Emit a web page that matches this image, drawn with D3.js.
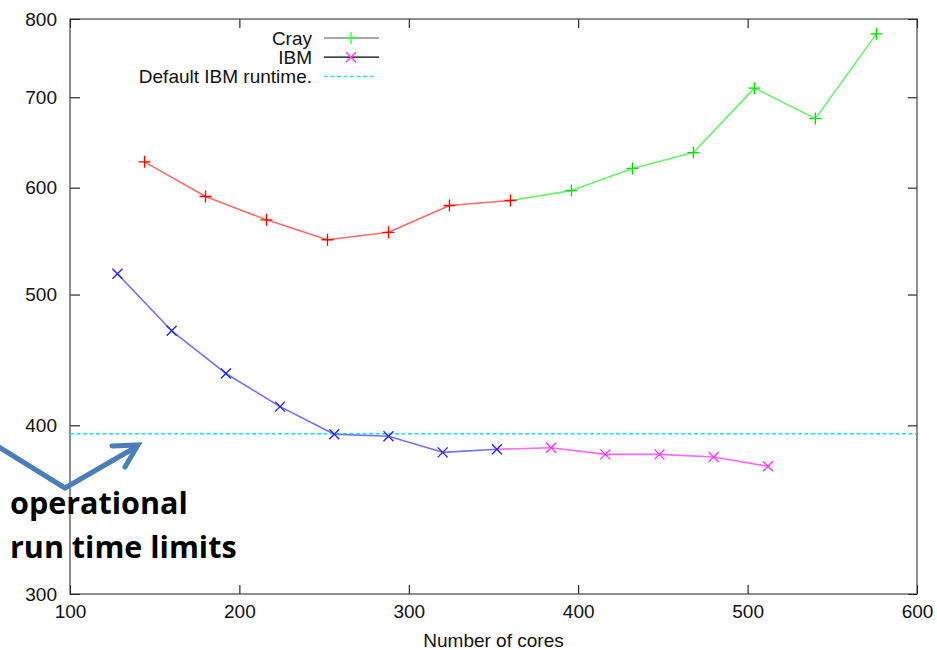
<!DOCTYPE html>
<html>
<head>
<meta charset="utf-8">
<script src="https://cdn.jsdelivr.net/npm/d3@7"></script>
<style>
  body { margin: 0; background: #fff; }
  svg { display: block; }
  .tick text { font-family: "Liberation Sans", Arial, sans-serif; font-size: 19px; fill: #111; }
  .label { font-family: "Liberation Sans", Arial, sans-serif; font-size: 19px; fill: #111; }
  .note { font-family: "Open Sans", Lato, sans-serif; font-weight: bold; font-size: 30.5px; fill: #000; }
</style>
</head>
<body>
<div id="graph"></div>
<script>
// cores used and run time
var cray_cores = [144, 180, 216, 252, 288, 324, 360, 396, 432, 468, 504, 540, 576];
var cray_time  = [627, 591, 568, 549, 556, 582, 587, 597, 620, 637, 711, 675, 780];
var ibm_cores  = [128, 160, 192, 224, 256, 288, 320, 352, 384, 416, 448, 480, 512];
var ibm_time   = [518, 470, 437, 413, 394, 392.6, 382, 384, 385, 380.7, 380.7, 379, 373];
var ibm_default = 394.3;
var x_ticks = [100, 200, 300, 400, 500, 600];
var y_ticks = [300, 400, 500, 600, 700, 800];
var legend_names = ["Cray", "IBM", "Default IBM runtime."];

// colour changes after this many cores (first colour up to it)
const split_cores = 365;
const margin = {top: 19, right: 20, bottom: 56, left: 70};
var width = 937 - margin.left - margin.right;
var height = 650 - margin.top - margin.bottom;

var svg = d3.select("#graph")
    .append("svg")
    .attr("width", 937)
    .attr("height", 650);

var xScale = d3.scaleLinear().domain([100, 600]).range([margin.left, margin.left + width]);
var yScale = d3.scaleLog().domain([300, 800]).range([margin.top + height, margin.top]);

// axes, ticks pointing into the plot like gnuplot
svg.append("g")
    .attr("transform", "translate(0," + (margin.top + height) + ")")
    .call(d3.axisBottom(xScale).tickValues(x_ticks).tickFormat(d3.format("d"))
        .tickSizeInner(-9).tickSizeOuter(0).tickPadding(11));
svg.append("g")
    .attr("transform", "translate(0," + margin.top + ")")
    .call(d3.axisTop(xScale).tickValues(x_ticks).tickFormat("").tickSizeInner(-9).tickSizeOuter(0));
svg.append("g")
    .attr("transform", "translate(" + margin.left + ",0)")
    .call(d3.axisLeft(yScale).tickValues(y_ticks).tickFormat(d3.format("d"))
        .tickSizeInner(-10).tickSizeOuter(0).tickPadding(13));
svg.append("g")
    .attr("transform", "translate(" + (margin.left + width) + ",0)")
    .call(d3.axisRight(yScale).tickValues(y_ticks).tickFormat("").tickSizeInner(-9).tickSizeOuter(0));
svg.selectAll(".domain").remove();
svg.selectAll(".tick line").attr("stroke", "#000");

svg.append("rect")
    .attr("x", margin.left)
    .attr("y", margin.top)
    .attr("width", width)
    .attr("height", height)
    .attr("fill", "none")
    .attr("stroke", "#444")
    .attr("stroke-width", 1.2);

svg.append("text")
    .attr("class", "label")
    .attr("x", margin.left + width / 2)
    .attr("y", 647)
    .attr("text-anchor", "middle")
    .text("Number of cores");

// default runtime line
svg.append("line")
    .attr("x1", xScale(100))
    .attr("x2", xScale(600) - 1)
    .attr("y1", yScale(ibm_default))
    .attr("y2", yScale(ibm_default))
    .attr("stroke", "#10e6f6")
    .attr("stroke-width", 1.4)
    .attr("stroke-dasharray", "4,2.5");

function plus(g, x, y, c) {
    g.append("path")
        .attr("d", "M" + (x - 6) + "," + y + "h12M" + x + "," + (y - 6) + "v12")
        .attr("stroke", c).attr("stroke-width", 1.3).attr("fill", "none");
}
function cross(g, x, y, c) {
    g.append("path")
        .attr("d", "M" + (x - 5) + "," + (y - 5) + "l10,10M" + (x - 5) + "," + (y + 5) + "l10,-10")
        .attr("stroke", c).attr("stroke-width", 1.3).attr("fill", "none");
}

function drawSeries(cores, times, col1, col2, lcol1, lcol2, marker) {
    var g = svg.append("g");
    for (var i = 1; i < cores.length; i++) {
        g.append("line")
            .attr("x1", xScale(cores[i - 1]))
            .attr("y1", yScale(times[i - 1]))
            .attr("x2", xScale(cores[i]))
            .attr("y2", yScale(times[i]))
            .attr("stroke", cores[i] <= split_cores ? lcol1 : lcol2)
            .attr("stroke-width", 1.6);
    }
    for (var i = 0; i < cores.length; i++) {
        marker(g, xScale(cores[i]), yScale(times[i]), cores[i] <= split_cores ? col1 : col2);
    }
}

drawSeries(cray_cores, cray_time, "#ff0000", "#00e000", "#ff6a6a", "#66f466", plus);
drawSeries(ibm_cores, ibm_time, "#2020ff", "#ff30ff", "#7070ff", "#ff66ff", cross);

// legend
var legend = svg.append("g");
legend_names.forEach(function(name, i) {
    var y = 38 + i * 19.2;
    legend.append("text")
        .attr("class", "label")
        .attr("x", 312)
        .attr("y", y + 6.5)
        .attr("text-anchor", "end")
        .text(name);
    if (i < 2) {
        legend.append("line")
            .attr("x1", 324).attr("x2", 379)
            .attr("y1", y).attr("y2", y)
            .attr("stroke", i == 0 ? "#555" : "#000")
            .attr("stroke-width", 1.2);
        if (i == 0) plus(legend, 351, y, "#33ff33");
        else cross(legend, 351, y, "#ff33ff");
    } else {
        legend.append("line")
            .attr("x1", 324).attr("x2", 376)
            .attr("y1", y).attr("y2", y)
            .attr("stroke", "#10e6f6")
            .attr("stroke-width", 1.4)
            .attr("stroke-dasharray", "4,2.5");
    }
});

// annotation arrow and text
var note = svg.append("g");
note.append("path")
    .attr("d", "M-6,444 L65,488 L136,447")
    .attr("fill", "none")
    .attr("stroke", "#4a7ebb")
    .attr("stroke-width", 5)
    .attr("stroke-linejoin", "miter");
note.append("path")
    .attr("d", "M112,446 L138,445 L125,467")
    .attr("fill", "none")
    .attr("stroke", "#4a7ebb")
    .attr("stroke-width", 5)
    .attr("stroke-linecap", "round")
    .attr("stroke-linejoin", "miter");
note.append("text").attr("class", "note").attr("x", 10).attr("y", 514).text("operational");
note.append("text").attr("class", "note").attr("x", 10).attr("y", 558).text("run time limits");
</script>
</body>
</html>
